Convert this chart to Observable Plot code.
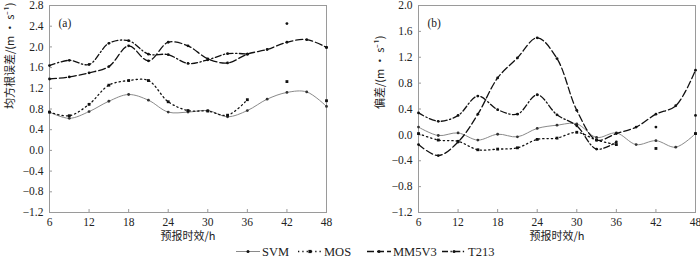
<!DOCTYPE html>
<html>
<head>
<meta charset="utf-8">
<script src="https://cdn.jsdelivr.net/npm/d3@7"></script>
<script src="https://cdn.jsdelivr.net/npm/@observablehq/plot@0.6"></script>
<style>
  html, body { margin: 0; padding: 0; background: #fff; }
  #wrap { width: 700px; height: 258px; position: relative; overflow: hidden; font-family: "Liberation Serif", serif; }
  #panels { display: flex; }
  #legend { position: absolute; left: 0; top: 244px; width: 700px; height: 14px; overflow: visible; }
</style>
</head>
<body>
<div id="wrap">
  <div id="panels"></div>
  <svg id="legend" width="700" height="14"></svg>
</div>
<script>
// Forecast lead times (h)
const leadTimes = [6, 9, 12, 15, 18, 21, 24, 27, 30, 33, 36, 39, 42, 45, 48];
const xTicks = [6, 12, 18, 24, 30, 36, 42, 48];

// Panel (a): RMSE
const svmA   = [0.74, 0.62, 0.75, 0.95, 1.08, 0.97, 0.74, 0.74, 0.77, 0.65, 0.77, 0.99, 1.12, 1.13, 0.85];
const mosA   = [0.74, 0.67, 0.89, 1.26, 1.35, 1.35, 0.94, 0.77, 0.76, 0.68, 0.98, null, 1.33, null, 0.96];
const mm5A   = [1.38, 1.42, 1.50, 1.62, 2.02, 1.73, 2.09, 2.02, 1.77, 1.69, 1.86, 1.95, 2.09, 2.14, 1.99];
const t213A  = [1.64, 1.74, 1.66, 2.07, 2.12, 1.86, 1.85, 1.68, 1.75, 1.87, 1.86, null, 2.45, null, 1.99];
const yTicksA = [-1.2, -0.8, -0.4, 0.0, 0.4, 0.8, 1.2, 1.6, 2.0, 2.4, 2.8];

// Panel (b): bias
const svmB   = [0.12, -0.01, 0.03, -0.08, 0.01, -0.03, 0.10, 0.15, 0.17, -0.04, 0.03, -0.15, -0.09, -0.19, 0.02];
const mosB   = [0.02, -0.08, -0.10, -0.23, -0.22, -0.20, -0.07, -0.05, 0.04, -0.08, -0.15, null, -0.21, null, 0.02];
const mm5B   = [-0.15, -0.32, -0.11, 0.32, 0.88, 1.19, 1.50, 1.18, 0.38, -0.08, 0.02, 0.12, 0.32, 0.45, 1.00];
const t213B  = [0.34, 0.21, 0.30, 0.60, 0.39, 0.32, 0.62, 0.31, 0.14, -0.22, -0.11, null, 0.12, null, 0.30];
const yTicksB = [-1.2, -0.8, -0.4, 0.0, 0.4, 0.8, 1.2, 1.6, 2.0];

const seriesNames = ["SVM", "MOS", "MM5V3", "T213"];
const styles = {
  SVM:   {stroke: "#8a8a8a", dash: null,            symbol: "circle", r: 1.4},
  MOS:   {stroke: "#111",    dash: "1.3,3",         symbol: "square", r: 1.6},
  MM5V3: {stroke: "#111",    dash: "7,3",           symbol: "circle", r: 1.4},
  T213:  {stroke: "#111",    dash: "6,2.5,1.3,2.5", symbol: "circle", r: 1.4}
};

const SERIF = "Liberation Serif";
const CJK = "Noto Sans CJK SC";

function toRows(arrs) {
  const rows = [];
  seriesNames.forEach((name, i) => {
    leadTimes.forEach((t, j) => rows.push({series: name, t, v: arrs[i][j]}));
  });
  return rows;
}

function panel({rows, yDomain, yTicks, tag, ylabel, marginLeft, marginRight, ylabelDx}) {
  const marks = [];
  for (const name of seriesNames) {
    const s = styles[name];
    const data = rows.filter(d => d.series === name);
    marks.push(Plot.line(data, {
      x: "t", y: d => d.v == null ? NaN : d.v,
      stroke: s.stroke, strokeWidth: name === "SVM" ? 1 : 1.3,
      strokeDasharray: s.dash, curve: "catmull-rom"
    }));
    marks.push(Plot.dot(data.filter(d => d.v != null), {
      x: "t", y: "v", symbol: s.symbol, r: s.r,
      fill: name === "SVM" ? "#333" : "#111", stroke: "none"
    }));
  }
  return Plot.plot({
    width: 350, height: 244,
    marginLeft, marginRight, marginTop: 5, marginBottom: 32,
    style: {fontFamily: SERIF, fontSize: "11px", color: "#222", background: "#fff"},
    x: {domain: [6, 48]},
    y: {domain: yDomain},
    marks: [
      Plot.frame({stroke: "#9a9a9a"}),
      Plot.axisY({ticks: yTicks, tickSize: 0, tickPadding: 6, label: null, tickFormat: d => d.toFixed(1).replace("-", "\u2212"), fontSize: 11.5, fontFamily: SERIF}),
      Plot.axisY({ticks: yTicks, tickSize: 3, dx: 3, text: null, label: null, stroke: "#9a9a9a"}),
      Plot.axisX({ticks: xTicks, tickSize: 0, tickPadding: 5, label: null, fontSize: 11.5, fontFamily: SERIF}),
      Plot.axisX({ticks: xTicks, tickSize: 3, dy: -3, text: null, label: null, stroke: "#9a9a9a"}),
      ...marks,
      Plot.text([tag], {frameAnchor: "top-left", dx: 9, dy: 13, text: d => d, fontSize: 11.5, fontFamily: SERIF}),
      Plot.text([ylabel], {frameAnchor: "left", rotate: -90, dx: ylabelDx, text: d => d, fontSize: 11, fontFamily: CJK}),
      Plot.text(["预报时效/h"], {frameAnchor: "bottom", dy: 27, text: d => d, fontSize: 11, fontFamily: CJK})
    ]
  });
}

const panels = document.getElementById("panels");
panels.appendChild(panel({
  rows: toRows([svmA, mosA, mm5A, t213A]), yDomain: [-1.2, 2.8], yTicks: yTicksA,
  tag: "(a)", ylabel: "均方根误差/(m · s⁻¹)", marginLeft: 49, marginRight: 24, ylabelDx: -39
}));
panels.appendChild(panel({
  rows: toRows([svmB, mosB, mm5B, t213B]), yDomain: [-1.2, 2.0], yTicks: yTicksB,
  tag: "(b)", ylabel: "偏差/(m · s⁻¹)", marginLeft: 68, marginRight: 5, ylabelDx: -38
}));

// Legend
const legend = d3.select("#legend");
const legendX = [236, 298, 367, 442];
seriesNames.forEach((name, i) => {
  const s = styles[name];
  const g = legend.append("g").attr("transform", `translate(${legendX[i]},7.5)`);
  g.append("line").attr("x1", 0).attr("x2", 24).attr("y1", 0).attr("y2", 0)
    .attr("stroke", s.stroke).attr("stroke-width", name === "SVM" ? 1 : 1.3)
    .attr("stroke-dasharray", s.dash);
  if (s.symbol === "square") g.append("rect").attr("x", 10.4).attr("y", -1.6).attr("width", 3.2).attr("height", 3.2).attr("fill", "#111");
  else g.append("circle").attr("cx", 12).attr("cy", 0).attr("r", 1.5).attr("fill", "#111");
  g.append("text").attr("x", 26).attr("y", 0).attr("dy", "0.35em")
    .attr("font-family", SERIF).attr("font-size", 12.5).attr("fill", "#222").text(name);
});
</script>
</body>
</html>
